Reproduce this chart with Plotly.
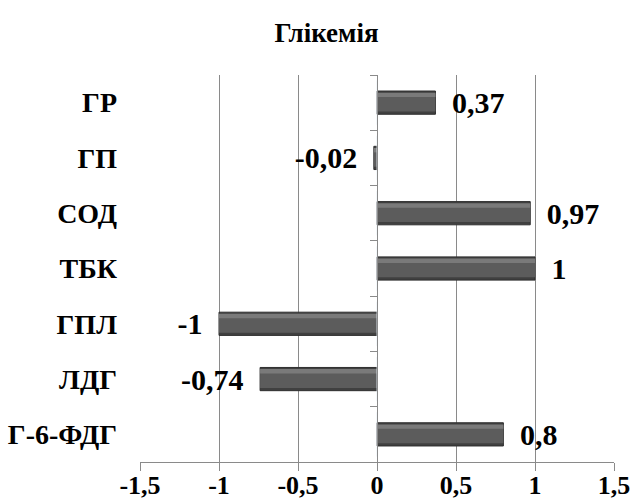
import plotly.graph_objects as go

# data (bottom to top)
categories = ["Г-6-ФДГ", "ЛДГ", "ГПЛ", "ТБК", "СОД", "ГП", "ГР"]
values = [0.8, -0.74, -1, 1, 0.97, -0.02, 0.37]
x_ticks = [-1.5, -1, -0.5, 0, 0.5, 1, 1.5]
x_tick_labels = ["-1,5", "-1", "-0,5", "0", "0,5", "1", "1,5"]

GAP = "\u00a0\u2009"


def fmt(v):
    s = ("%g" % v).replace(".", ",")
    return "<b>%s%s</b>" % (GAP, s) if v >= 0 else "<b>%s%s</b>" % (s, GAP)


labels = [fmt(v) for v in values]

FONT = "Liberation Serif"
GRID = "#8a8a8a"

fig = go.Figure()
# outer (dark) bar with labels
fig.add_trace(go.Bar(
    y=categories, x=values, orientation="h", width=0.42,
    marker=dict(color="#404040", line=dict(color="#2f2f2f", width=1)),
    text=labels, textposition="outside", constraintext="none", cliponaxis=False,
    textfont=dict(family=FONT, size=30, color="black"),
    showlegend=False, hoverinfo="skip",
))
# body
fig.add_trace(go.Bar(
    y=categories, x=values, orientation="h", width=0.32, offset=-0.16,
    marker=dict(color="#5c5c5c", line=dict(width=0)),
    showlegend=False, hoverinfo="skip",
))
# top highlight
fig.add_trace(go.Bar(
    y=categories, x=values, orientation="h", width=0.08, offset=0.1,
    marker=dict(color="#7a7a7a", line=dict(width=0)),
    showlegend=False, hoverinfo="skip",
))
# invisible trace for the zero-axis with boundary ticks
fig.add_trace(go.Bar(
    y=categories, x=[0] * len(categories), orientation="h", yaxis="y2",
    marker=dict(color="rgba(0,0,0,0)"), showlegend=False, hoverinfo="skip",
))

fig.update_layout(
    width=634, height=500,
    margin=dict(l=140, r=20, t=75, b=38, autoexpand=False),
    paper_bgcolor="white", plot_bgcolor="white",
    barmode="overlay",
    font=dict(family=FONT),
    title=dict(text="<b>Глікемія</b>", x=0.515, xanchor="center", y=0.934, yanchor="middle",
               font=dict(family=FONT, size=27, color="black")),
    xaxis=dict(
        range=[-1.5, 1.5], tickvals=x_ticks, ticktext=["<b>%s</b>" % t for t in x_tick_labels],
        showgrid=True, gridcolor=GRID, gridwidth=1, automargin=False,
        zeroline=False, showline=True, linecolor=GRID, linewidth=1,
        ticks="outside", ticklen=8, tickcolor=GRID, ticklabelstandoff=-8,
        tickfont=dict(family=FONT, size=26, color="black"),
    ),
    yaxis=dict(
        type="category", categoryorder="array", categoryarray=categories,
        range=[-0.5, len(categories) - 0.5], automargin=False,
        showgrid=False, zeroline=False, showline=False, ticks="",
        ticklabelstandoff=22,
        tickvals=categories, ticktext=["<b>%s</b>" % c for c in categories],
        tickfont=dict(family=FONT, size=28, color="black"),
    ),
    yaxis2=dict(
        type="category", categoryorder="array", categoryarray=categories,
        range=[-0.5, len(categories) - 0.5], automargin=False,
        overlaying="y", anchor="free", position=0.5, side="left",
        showline=True, linecolor=GRID, linewidth=1,
        ticks="outside", ticklen=7, tickcolor=GRID, tickson="boundaries",
        showticklabels=False, showgrid=False, zeroline=False,
    ),
)

fig.write_html("out.html")
